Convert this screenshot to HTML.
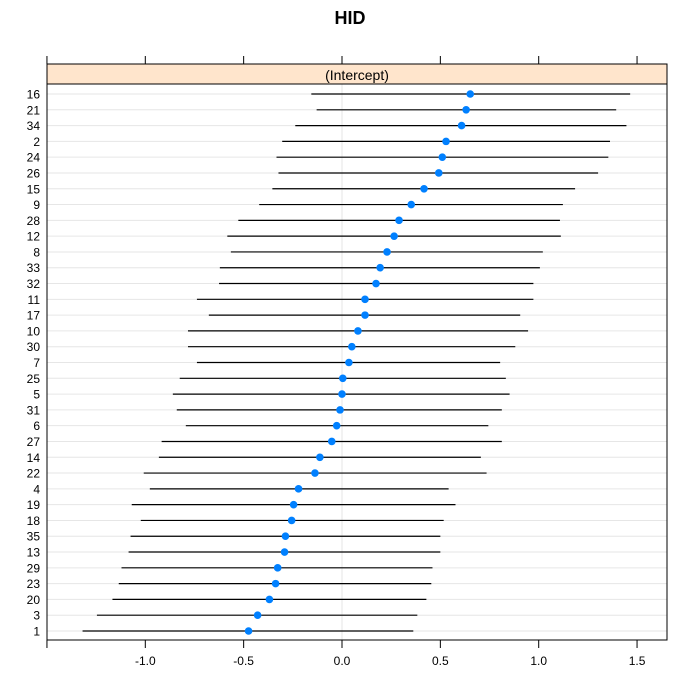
<!DOCTYPE html>
<html><head><meta charset="utf-8"><style>
body{margin:0;background:#fff;}
svg{display:block;font-family:"Liberation Sans",Arial,sans-serif;}
</style></head><body>
<svg id="chart" width="700" height="700">
<text x="350" y="24" text-anchor="middle" font-size="18" font-weight="bold">HID</text>
<rect x="47" y="64" width="620" height="20" fill="#ffe5cc" stroke="#000"/>
<text x="357" y="80" text-anchor="middle" font-size="14">(Intercept)</text>
<g id="grid"></g><g id="marks"></g><g id="axes"></g>
<rect x="47" y="84" width="620" height="556" fill="none" stroke="#000"/>
</svg>
<script>
const categories=["16","21","34","2","24","26","15","9","28","12","8","33","32","11","17","10","30","7","25","5","31","6","27","14","22","4","19","18","35","13","29","23","20","3","1"];
const estimates=[0.652,0.631,0.608,0.529,0.510,0.492,0.417,0.352,0.290,0.265,0.229,0.194,0.173,0.117,0.117,0.081,0.050,0.035,0.004,0.0,-0.010,-0.027,-0.052,-0.1125,-0.1375,-0.221,-0.246,-0.256,-0.2875,-0.292,-0.327,-0.3375,-0.369,-0.429,-0.475];
const lower=[-0.156,-0.129,-0.2375,-0.304,-0.333,-0.323,-0.354,-0.421,-0.527,-0.583,-0.565,-0.621,-0.625,-0.7375,-0.677,-0.783,-0.783,-0.7375,-0.825,-0.860,-0.840,-0.794,-0.917,-0.931,-1.008,-0.977,-1.069,-1.023,-1.075,-1.085,-1.121,-1.135,-1.167,-1.246,-1.319];
const upper=[1.465,1.394,1.446,1.3625,1.354,1.302,1.185,1.123,1.108,1.1125,1.021,1.006,0.973,0.973,0.906,0.946,0.881,0.804,0.833,0.852,0.8125,0.744,0.8125,0.706,0.735,0.542,0.577,0.517,0.5,0.5,0.460,0.454,0.429,0.383,0.3625];
const xTicks=[-1.5,-1.0,-0.5,0.0,0.5,1.0,1.5];
const xTickLabels=["","-1.0","-0.5","0.0","0.5","1.0","1.5"];
const NS="http://www.w3.org/2000/svg";
function xs(v){return 342+v*196.7;}
function ys(i){return 94+i*(537/(categories.length-1));}
function mk(p,t,a){const e=document.createElementNS(NS,t);for(const k in a)e.setAttribute(k,a[k]);p.appendChild(e);return e;}
const grid=document.getElementById('grid'),marks=document.getElementById('marks'),axes=document.getElementById('axes');
let z=mk(grid,'line',{x1:xs(0),x2:xs(0),y1:84,y2:640,stroke:'#e6e6e6'});


categories.forEach((c,i)=>{
 const y=ys(i);
 let g=mk(grid,'line',{x1:47,x2:667,y1:y,y2:y,stroke:'#e6e6e6'});
 
 
 let l=mk(marks,'line',{x1:xs(lower[i]),x2:xs(upper[i]),y1:y,y2:y,stroke:'#000','stroke-width':1.2});
 
 
 let p=mk(marks,'circle',{cx:xs(estimates[i]),cy:y,r:3.8,fill:'#0080ff'});
 
 
 let t=mk(axes,'text',{x:40,y:y+4.5,'text-anchor':'end','font-size':12});
 t.textContent=c;
 
 
});
xTicks.forEach((v,i)=>{
 const x=xs(v);
 let a=mk(axes,'line',{x1:x,x2:x,y1:56,y2:64,stroke:'#000'});
 
 
 let b=mk(axes,'line',{x1:x,x2:x,y1:640,y2:648,stroke:'#000'});
 
 
 let t=mk(axes,'text',{x:x,y:665,'text-anchor':'middle','font-size':12});
 t.textContent=xTickLabels[i];
 
 
});
</script>
</body></html>
